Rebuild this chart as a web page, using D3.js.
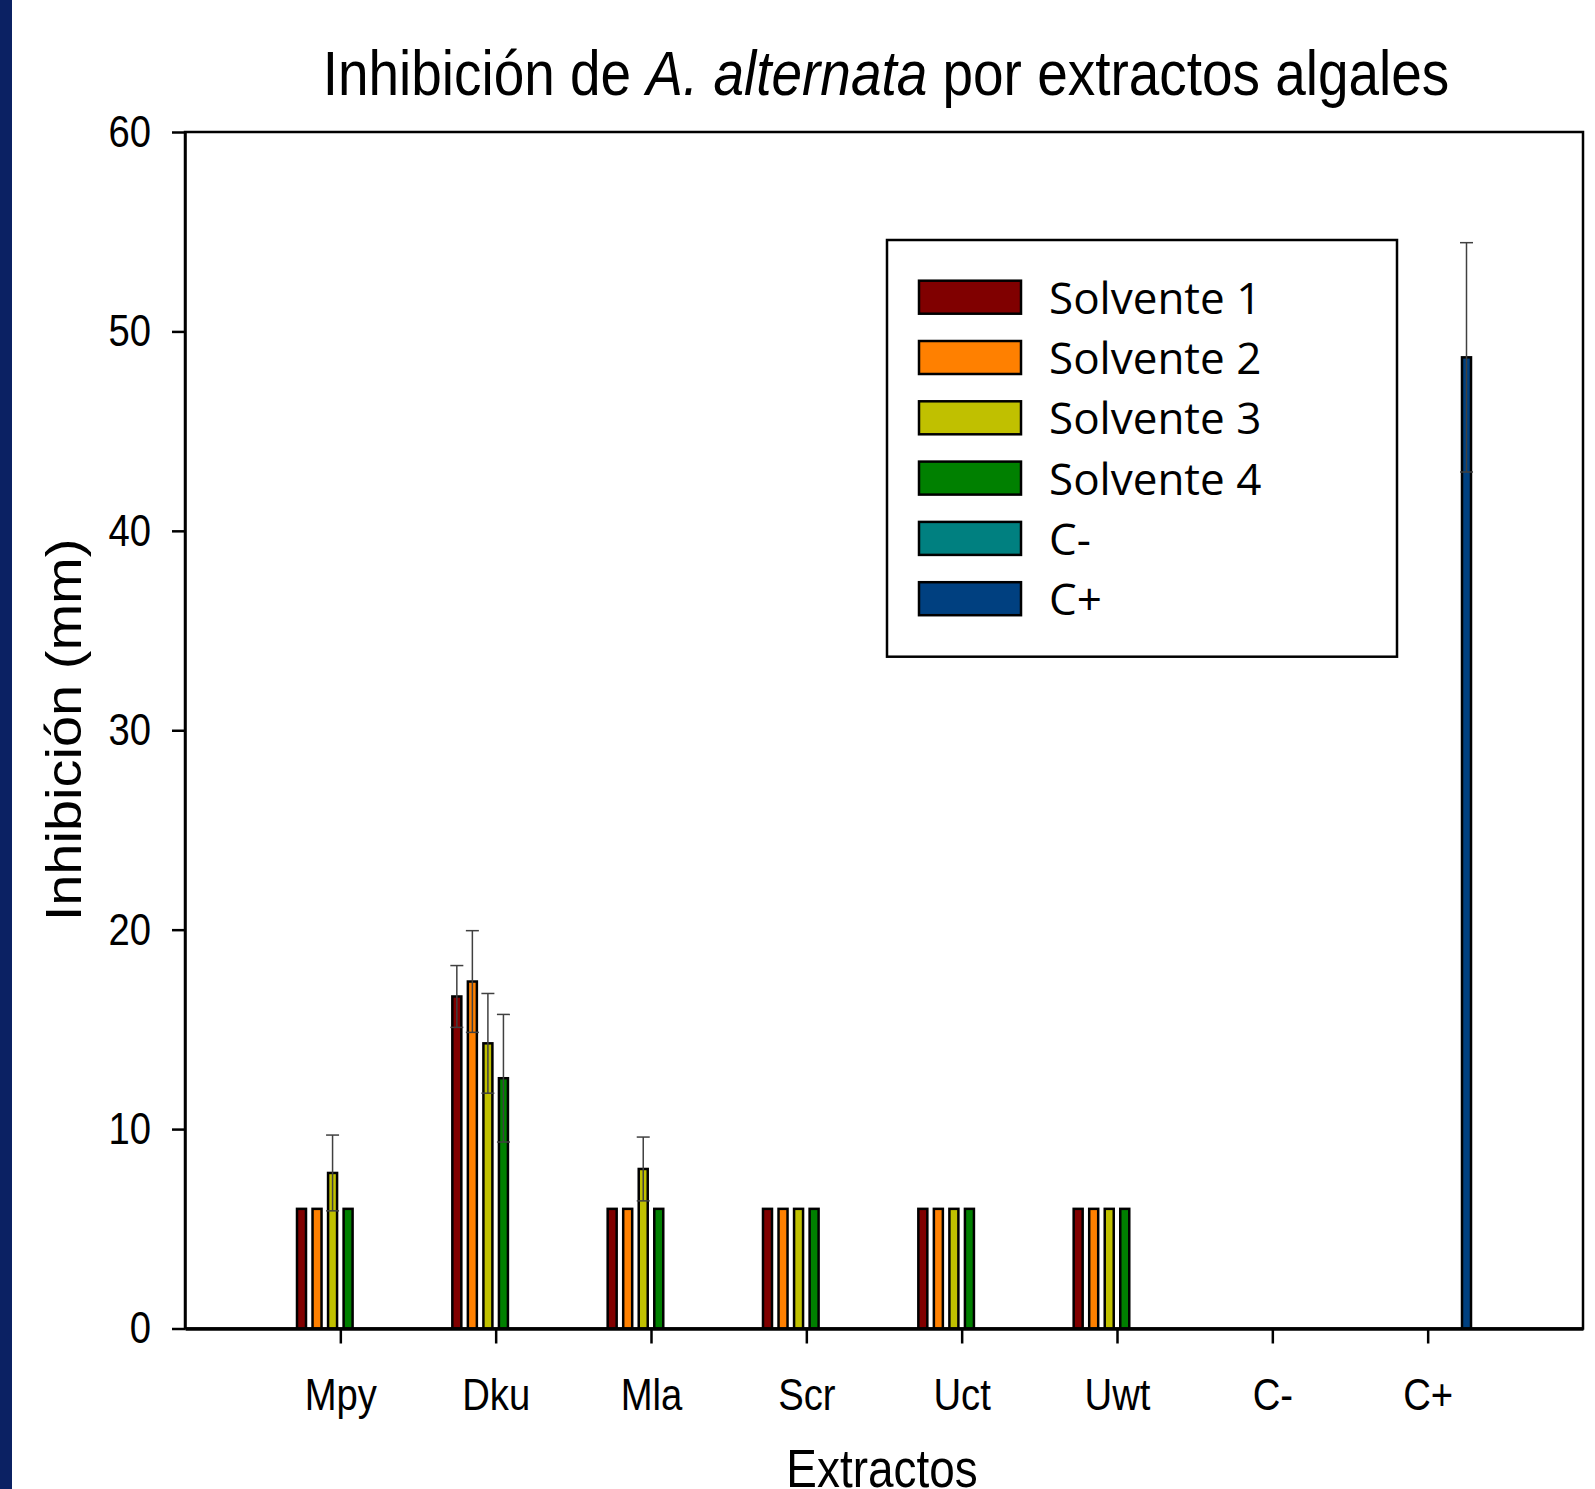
<!DOCTYPE html>
<html>
<head>
<meta charset="utf-8">
<script src="https://d3js.org/d3.v7.min.js"></script>
<style>
  body { margin: 0; background: #fff; }
  svg { display: block; }
</style>
</head>
<body>
<svg id="chart"></svg>
<script>
const categories = ["Mpy", "Dku", "Mla", "Scr", "Uct", "Uwt", "C-", "C+"];
const seriesNames = ["Solvente 1", "Solvente 2", "Solvente 3", "Solvente 4", "C-", "C+"];
const seriesColors = ["#800000", "#ff8000", "#c0c000", "#008000", "#008080", "#004080"];

const solvente1 = [6, 16.65, 6, 6, 6, 6, 0, 0];
const solvente1Err = [0, 1.55, 0, 0, 0, 0, 0, 0];
const solvente2 = [6, 17.4, 6, 6, 6, 6, 0, 0];
const solvente2Err = [0, 2.55, 0, 0, 0, 0, 0, 0];
const solvente3 = [7.8, 14.3, 8.0, 6, 6, 6, 0, 0];
const solvente3Err = [1.9, 2.5, 1.6, 0, 0, 0, 0, 0];
const solvente4 = [6, 12.55, 6, 6, 6, 6, 0, 0];
const solvente4Err = [0, 3.2, 0, 0, 0, 0, 0, 0];
const cNeg = [0, 0, 0, 0, 0, 0, 0, 0];
const cNegErr = [0, 0, 0, 0, 0, 0, 0, 0];
const cPos = [0, 0, 0, 0, 0, 0, 0, 48.7];
const cPosErr = [0, 0, 0, 0, 0, 0, 0, 5.75];

const yTicks = [0, 10, 20, 30, 40, 50, 60];

const values = [solvente1, solvente2, solvente3, solvente4, cNeg, cPos];
const errors = [solvente1Err, solvente2Err, solvente3Err, solvente4Err, cNegErr, cPosErr];

const width = 1595, height = 1489;
const plot = { left: 185, right: 1583, top: 132, bottom: 1328.5 };
const squeeze = 0.85;
const sigmaFont = "'Liberation Sans', Arial, sans-serif";

const svg = d3.select("#chart")
    .attr("width", width)
    .attr("height", height)
    .style("font-family", sigmaFont);

svg.append("rect")
    .attr("width", width).attr("height", height)
    .attr("fill", "#fff");

// dark strip on the left edge
svg.append("rect")
    .attr("x", 0).attr("y", 0)
    .attr("width", 12).attr("height", height)
    .attr("fill", "#0b2163");

const x = d3.scaleLinear().domain([0, categories.length + 1]).range([plot.left, plot.right]);
const y = d3.scaleLinear().domain([0, 60]).range([plot.bottom, plot.top]);
const slot = (x(1) - x(0)) * 0.6;
const sub = d3.scaleBand().domain(seriesNames).range([-slot / 2, slot / 2]);
const barW = 9;

// frame
svg.append("rect")
    .attr("x", plot.left).attr("y", plot.top)
    .attr("width", plot.right - plot.left).attr("height", plot.bottom - plot.top)
    .attr("fill", "none").attr("stroke", "#000").attr("stroke-width", 2.5);

const data = [];
seriesNames.forEach((s, j) => {
    categories.forEach((c, i) => {
        if (values[j][i] > 0) {
            data.push({ series: s, j: j, cat: i + 1, v: values[j][i], e: errors[j][i] });
        }
    });
});

const cx = d => x(d.cat) + sub(d.series) + sub.bandwidth() / 2;

svg.append("g").selectAll("rect")
    .data(data)
    .join("rect")
    .attr("x", d => cx(d) - barW / 2)
    .attr("y", d => y(d.v))
    .attr("width", barW)
    .attr("height", d => y(0) - y(d.v))
    .attr("fill", d => seriesColors[d.j])
    .attr("stroke", "#000")
    .attr("stroke-width", 2.5);

// error bars
const errG = svg.append("g")
    .attr("stroke", "#404040")
    .attr("stroke-width", 1.5);
const withErr = data.filter(d => d.e > 0);
errG.selectAll(".stem").data(withErr).join("line")
    .attr("x1", cx).attr("x2", cx)
    .attr("y1", d => y(d.v - d.e)).attr("y2", d => y(d.v + d.e));
errG.selectAll(".capTop").data(withErr).join("line")
    .attr("x1", d => cx(d) - 6.5).attr("x2", d => cx(d) + 6.5)
    .attr("y1", d => y(d.v + d.e)).attr("y2", d => y(d.v + d.e));
errG.selectAll(".capBot").data(withErr).join("line")
    .attr("x1", d => cx(d) - 6.5).attr("x2", d => cx(d) + 6.5)
    .attr("y1", d => y(d.v - d.e)).attr("y2", d => y(d.v - d.e));

// axes
const xAxis = svg.append("g")
    .attr("transform", `translate(0, ${plot.bottom})`)
    .call(d3.axisBottom(x)
        .tickValues(d3.range(1, categories.length + 1))
        .tickFormat(i => categories[i - 1])
        .tickSize(15)
        .tickSizeOuter(0));
xAxis.select(".domain").attr("stroke-width", 3.5);
xAxis.selectAll(".tick line").attr("stroke-width", 2.5);
xAxis.selectAll(".tick text")
    .attr("y", 81.5).attr("dy", 0)
    .attr("transform", `scale(${squeeze},1)`)
    .attr("fill", "#000")
    .style("font-size", "45px")
    .style("font-family", sigmaFont);

const yAxis = svg.append("g")
    .attr("transform", `translate(${plot.left}, 0)`)
    .call(d3.axisLeft(y).tickValues(yTicks).tickSize(13).tickSizeOuter(0));
yAxis.select(".domain").attr("stroke-width", 2.5);
yAxis.selectAll(".tick line").attr("stroke-width", 2.5);
yAxis.selectAll(".tick text")
    .attr("x", -34 / squeeze)
    .attr("transform", `scale(${squeeze},1)`)
    .attr("fill", "#000")
    .style("font-size", "45px")
    .style("font-family", sigmaFont);

// title
const title = svg.append("text")
    .attr("text-anchor", "middle")
    .attr("transform", `translate(886, 95) scale(0.872,1)`)
    .style("font-size", "63px");
title.append("tspan").text("Inhibición de ");
title.append("tspan").style("font-style", "italic").text("A. alternata");
title.append("tspan").text(" por extractos algales");

// axis titles
svg.append("text")
    .attr("text-anchor", "middle")
    .attr("transform", `translate(882, 1487) scale(${squeeze},1)`)
    .style("font-size", "54px")
    .text("Extractos");

svg.append("text")
    .attr("text-anchor", "middle")
    .attr("transform", `translate(81, 730) scale(0.9,1) rotate(-90)`)
    .style("font-size", "56px")
    .text("Inhibición (mm)");

// legend
const legend = svg.append("g");
legend.append("rect")
    .attr("x", 887).attr("y", 240)
    .attr("width", 510).attr("height", 416.7)
    .attr("fill", "#fff").attr("stroke", "#000").attr("stroke-width", 2.5);

const rows = legend.selectAll(".row")
    .data(seriesNames)
    .join("g")
    .attr("transform", (d, i) => `translate(919, ${280.7 + i * 60.3})`);
rows.append("rect")
    .attr("width", 102).attr("height", 33)
    .attr("fill", (d, i) => seriesColors[i])
    .attr("stroke", "#000").attr("stroke-width", 2.5);
rows.append("text")
    .attr("x", 130).attr("y", 33)
    .style("font-family", "'Open Sans', 'Noto Sans', sans-serif")
    .style("font-size", "44px")
    .text(d => d);
</script>
</body>
</html>
